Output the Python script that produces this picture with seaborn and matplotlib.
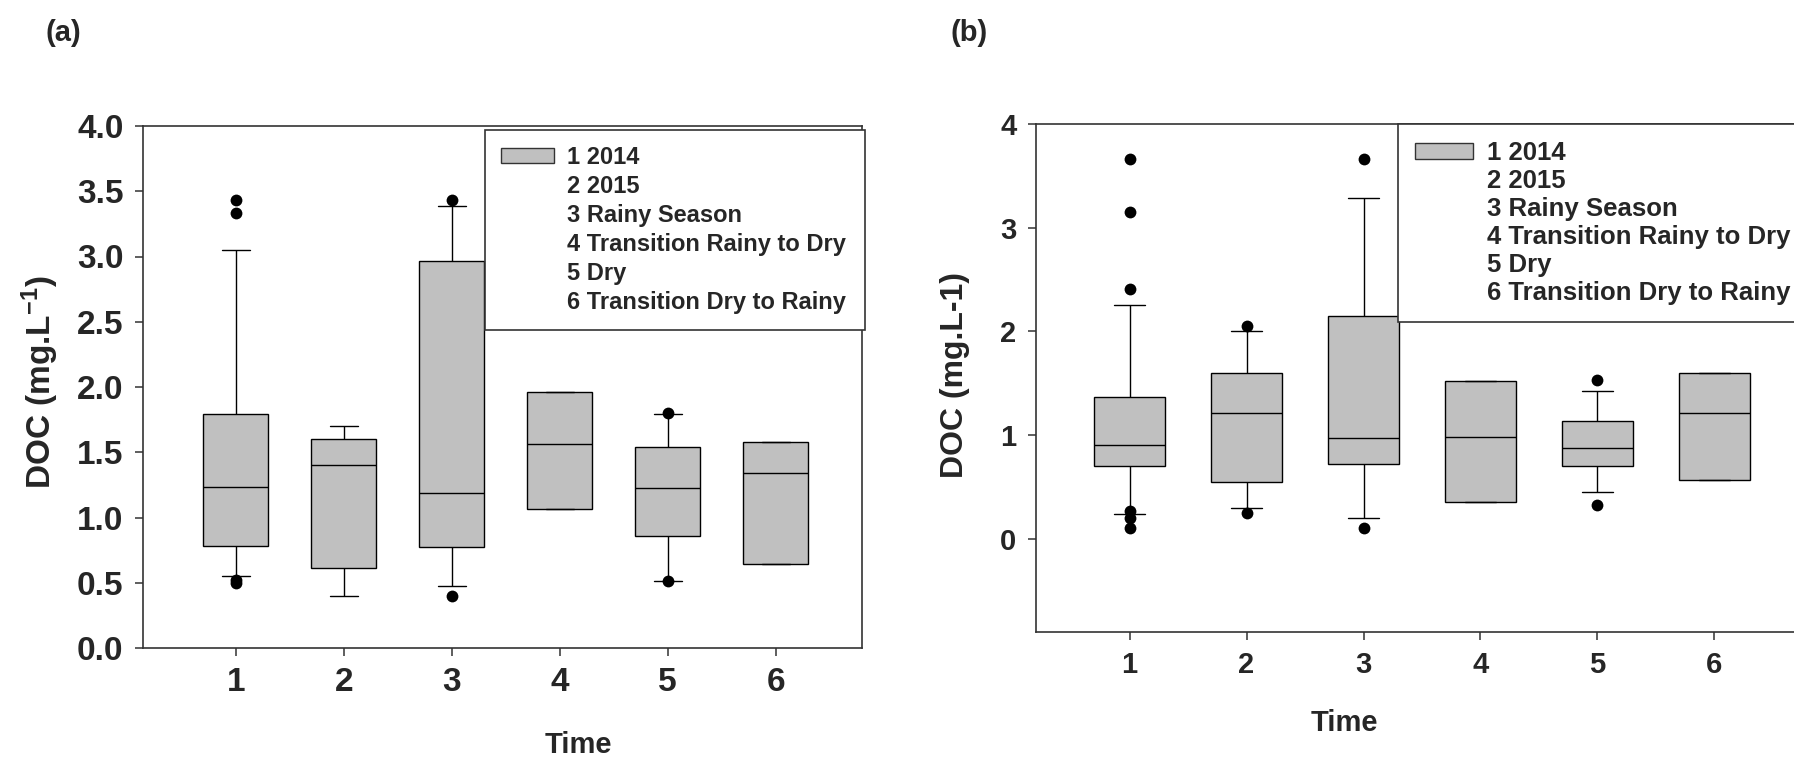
import numpy as np
import pandas as pd
import matplotlib
matplotlib.use("Agg")
import matplotlib.pyplot as plt
import matplotlib.font_manager as fm
from matplotlib.patches import Patch
import seaborn as sns

# box summaries (whisker low, Q1, median, Q3, whisker high)
times = ["1", "2", "3", "4", "5", "6"]
legend_labels = ["1 2014", "2 2015", "3 Rainy Season",
                 "4 Transition Rainy to Dry", "5 Dry", "6 Transition Dry to Rainy"]

a_low = [0.55, 0.40, 0.475, 1.065, 0.51, 0.645]
a_q1 = [0.78, 0.615, 0.775, 1.065, 0.86, 0.645]
a_med = [1.235, 1.40, 1.185, 1.56, 1.225, 1.34]
a_q3 = [1.795, 1.605, 2.965, 1.96, 1.54, 1.58]
a_high = [3.05, 1.70, 3.39, 1.96, 1.795, 1.58]
a_out_time = ["1", "1", "1", "1", "3", "3", "5", "5"]
a_out_doc = [3.43, 3.33, 0.52, 0.495, 3.43, 0.40, 1.80, 0.51]

b_low = [0.24, 0.30, 0.195, 0.355, 0.45, 0.57]
b_q1 = [0.70, 0.545, 0.725, 0.355, 0.70, 0.57]
b_med = [0.905, 1.21, 0.97, 0.985, 0.875, 1.21]
b_q3 = [1.37, 1.595, 2.15, 1.525, 1.14, 1.595]
b_high = [2.25, 2.0, 3.29, 1.525, 1.42, 1.595]
b_out_time = ["1", "1", "1", "1", "1", "1", "2", "2", "3", "3", "5", "5"]
b_out_doc = [3.66, 3.15, 2.41, 0.27, 0.20, 0.10, 2.05, 0.245, 3.66, 0.10, 1.535, 0.325]

installed = {f.name for f in fm.fontManager.ttflist}
narrow = "Liberation Sans Narrow" if "Liberation Sans Narrow" in installed else "Liberation Sans"

sns.set_style("white")
plt.rcParams["font.family"] = ["Liberation Sans", "DejaVu Sans"]
plt.rcParams["font.weight"] = "bold"
plt.rcParams["mathtext.fontset"] = "custom"
plt.rcParams["mathtext.rm"] = narrow + ":bold"
plt.rcParams["mathtext.bf"] = narrow + ":bold"
plt.rcParams["mathtext.default"] = "bf"

BOX_GRAY = "#c0c0c0"
EDGE = "#333333"


def five_number_frame(low, q1, med, q3, high):
    # five values per group -> seaborn quartiles land exactly on q1/med/q3
    rows = []
    for t, vals in zip(times, zip(low, q1, med, q3, high)):
        for v in vals:
            rows.append({"time": t, "doc": v})
    return pd.DataFrame(rows)


def draw_panel(ax, box_df, out_time, out_doc, fam, tick_size, xlim):
    sns.boxplot(data=box_df, x="time", y="doc", order=times, whis=(0, 100),
                width=0.6, color=BOX_GRAY, saturation=1, linecolor="black",
                linewidth=1.0, fliersize=0, capwidths=0.26, ax=ax)
    out_df = pd.DataFrame({"time": out_time, "doc": out_doc})
    sns.stripplot(data=out_df, x="time", y="doc", order=times, jitter=False,
                  color="black", size=8.5, linewidth=0, ax=ax)
    ax.set_xlim(*xlim)
    for side in ["top", "right", "left", "bottom"]:
        ax.spines[side].set_color(EDGE)
        ax.spines[side].set_linewidth(1.2)
    ax.tick_params(axis="both", direction="out", length=6, width=1.1,
                   color=EDGE, left=True, bottom=True, pad=8)
    for lab in ax.get_xticklabels() + ax.get_yticklabels():
        lab.set_fontfamily(fam)
        lab.set_fontweight("bold")
        lab.set_fontsize(tick_size)


def add_legend(ax, fig, x0, y0, w, fam, size, spacing, pad):
    handles = [Patch(facecolor=BOX_GRAY, edgecolor=EDGE, linewidth=1.0)]
    handles += [Patch(visible=False) for _ in legend_labels[1:]]
    leg = ax.legend(handles, legend_labels, loc="upper left",
                    bbox_to_anchor=(x0, y0, w, 0), bbox_transform=fig.transFigure,
                    mode="expand", frameon=True, fancybox=False, framealpha=1,
                    edgecolor=EDGE, handlelength=2.25, handleheight=0.58,
                    handletextpad=0.55, labelspacing=spacing, borderpad=pad,
                    borderaxespad=0, prop={"family": fam, "weight": "bold", "size": size})
    leg.get_frame().set_linewidth(1.2)
    return leg


fig = plt.figure(figsize=(17.94, 7.6), dpi=100)
W, H = 1794, 760
ax_a = fig.add_axes([143 / W, 1 - 648 / H, (862 - 143) / W, (648 - 126) / H])
ax_b = fig.add_axes([1036 / W, 1 - 632 / H, (1808 - 1036) / W, (632 - 124) / H])

# panel (a)
df_a = five_number_frame(a_low, a_q1, a_med, a_q3, a_high)
draw_panel(ax_a, df_a, a_out_time, a_out_doc, narrow, 24, (-0.86, 5.80))
ax_a.set_ylim(0, 4)
ax_a.set_yticks(np.arange(0, 4.01, 0.5))
ax_a.set_yticklabels([f"{v:.1f}" for v in np.arange(0, 4.01, 0.5)],
                     fontfamily=narrow, fontweight="bold", fontsize=24)
ax_a.set_xlabel("Time", fontsize=21, fontweight="bold")
ax_a.xaxis.set_label_coords(0.605, -0.185)
ax_a.xaxis.label.set_va("center")
ax_a.set_ylabel("DOC (mg.L$^{-1}$)", fontsize=24, fontweight="bold", fontfamily=narrow)
ax_a.yaxis.set_label_coords(-0.143, 0.51)
ax_a.yaxis.label.set_va("center")
add_legend(ax_a, fig, 485 / W, 1 - 130 / H, (865 - 485) / W, narrow, 17, 0.25, 0.68)

# panel (b)
df_b = five_number_frame(b_low, b_q1, b_med, b_q3, b_high)
draw_panel(ax_b, df_b, b_out_time, b_out_doc, "Liberation Sans", 21, (-0.8, 5.8))
ax_b.set_ylim(-0.9, 4)
ax_b.set_yticks([0, 1, 2, 3, 4])
ax_b.set_yticklabels(["0", "1", "2", "3", "4"], fontweight="bold", fontsize=21)
ax_b.set_xlabel("Time", fontsize=21, fontweight="bold")
ax_b.xaxis.set_label_coords(0.40, -0.18)
ax_b.xaxis.label.set_va("center")
ax_b.set_ylabel("DOC (mg.L-1)", fontsize=23, fontweight="bold")
ax_b.yaxis.set_label_coords(-0.105, 0.506)
ax_b.yaxis.label.set_va("center")
add_legend(ax_b, fig, 1398 / W, 1 - 124 / H, (1830 - 1398) / W, "Liberation Sans", 18.5, 0.15, 0.68)

fig.text(63 / W, 1 - 33 / H, "(a)", fontsize=21, fontweight="bold", ha="center", va="center")
fig.text(969 / W, 1 - 33 / H, "(b)", fontsize=21, fontweight="bold", ha="center", va="center")

fig.savefig("out.png", dpi=100, facecolor="white")
